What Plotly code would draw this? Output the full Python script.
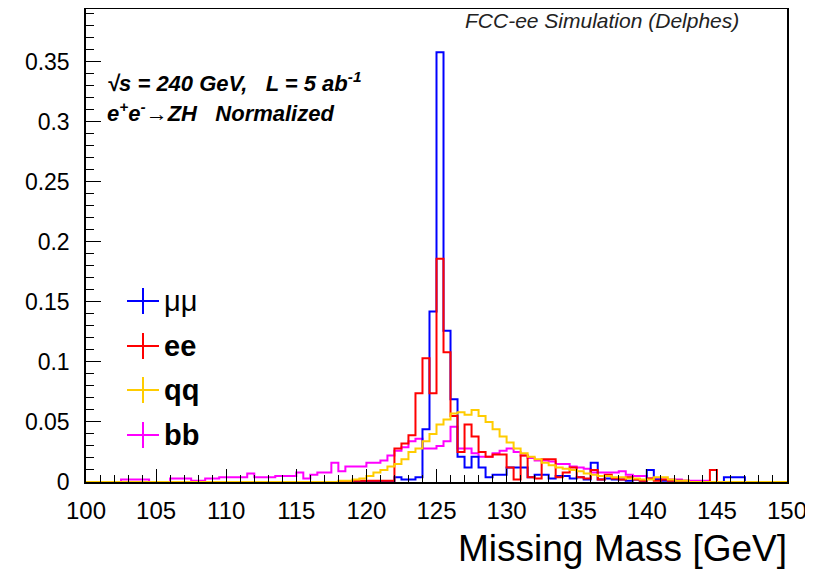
import plotly.graph_objects as go

# ---- data: normalized missing-mass histograms, 100 bins of 0.5 GeV from 100 to 150 ----
bin_low = 100.0
bin_width = 0.5
n_bins = 100

mumu = [0.0] * 44 + [
    0.004, 0.002, 0.002, 0.004,                    # 122.0 - 123.5
    0.044, 0.142, 0.358, 0.126, 0.069, 0.021,      # 124.0 - 126.5
    0.012, 0.021, 0.012, 0.004, 0.006, 0.006,      # 127.0 - 129.5
    0.012, 0.012, 0.012, 0.004, 0.006, 0.006,      # 130.0 - 132.5
    0.003, 0.005, 0.005, 0.003, 0.004, 0.002,      # 133.0 - 135.5
    0.016, 0.002, 0.003, 0.002, 0.002, 0.001,      # 136.0 - 138.5
    0.002, 0.001, 0.010, 0.002, 0.001, 0.001,      # 139.0 - 141.5
    0.001, 0.0, 0.0, 0.0, 0.0, 0.0, 0.0,           # 142.0 - 145.0
    0.004, 0.004, 0.004,                           # 145.5 - 146.5
    0.0, 0.0, 0.0, 0.0, 0.0, 0.0                   # 147.0 - 149.5
]

ee = [0.0] * 38 + [
    0.001, 0.001, 0.001, 0.001, 0.001, 0.001,      # 119.0 - 121.5
    0.028, 0.032, 0.039, 0.074, 0.103, 0.074,      # 122.0 - 124.5
    0.186, 0.108, 0.055, 0.025, 0.048, 0.038,      # 125.0 - 127.5
    0.025, 0.021, 0.023, 0.023, 0.012, 0.002,      # 128.0 - 130.5
    0.022, 0.004, 0.003, 0.019, 0.019, 0.004,      # 131.0 - 133.5
    0.008, 0.012, 0.004, 0.003, 0.010, 0.002,      # 134.0 - 136.5
    0.006, 0.003, 0.002, 0.004, 0.002, 0.001,      # 137.0 - 139.5
    0.003, 0.001, 0.002, 0.001, 0.001, 0.001,      # 140.0 - 142.5
    0.0, 0.0, 0.0, 0.010,                          # 143.0 - 144.5
    0.0, 0.0, 0.0, 0.0, 0.0, 0.0, 0.0, 0.0, 0.0, 0.0  # 145.0 - 149.5
]

qq = [0.0] * 36 + [
    0.001, 0.001, 0.002, 0.003, 0.005, 0.008,      # 118.0 - 120.5
    0.010, 0.013, 0.015, 0.019, 0.025, 0.028,      # 121.0 - 123.5
    0.034, 0.040, 0.048, 0.052, 0.057, 0.058,      # 124.0 - 126.5
    0.056, 0.060, 0.055, 0.050, 0.044, 0.038,      # 127.0 - 129.5
    0.033, 0.028, 0.024, 0.021, 0.019, 0.016,      # 130.0 - 132.5
    0.014, 0.012, 0.011, 0.010, 0.009, 0.007,      # 133.0 - 135.5
    0.006, 0.005, 0.005, 0.004, 0.004, 0.003,      # 136.0 - 138.5
    0.003, 0.002, 0.002, 0.004, 0.004, 0.002,      # 139.0 - 141.5
    0.001, 0.001,                                  # 142.0 - 142.5
] + [0.0] * 14

bb = [
    0.0, 0.0, 0.0, 0.0, 0.0, 0.002, 0.002, 0.002,  # 100.0 - 103.5
    0.002, 0.0, 0.0, 0.0, 0.003, 0.003, 0.003,     # 104.0 - 107.0
    0.001, 0.001, 0.003, 0.003, 0.004, 0.004,      # 107.5 - 110.0
    0.004, 0.004, 0.007, 0.004, 0.004, 0.004,      # 110.5 - 113.0
    0.005, 0.005, 0.005, 0.008, 0.003, 0.006,      # 113.5 - 116.0
    0.008, 0.008, 0.016, 0.009, 0.013, 0.013,      # 116.5 - 119.0
    0.013, 0.016, 0.016, 0.018, 0.022, 0.026,      # 119.5 - 122.0
    0.029, 0.034, 0.036, 0.028, 0.028, 0.030,      # 122.5 - 125.0
    0.034, 0.046, 0.028, 0.028, 0.024, 0.021,      # 125.5 - 128.0
    0.021, 0.024, 0.026, 0.028, 0.025, 0.022,      # 128.5 - 131.0
    0.020, 0.018, 0.018, 0.017, 0.015, 0.015,      # 131.5 - 134.0
    0.013, 0.012, 0.011, 0.008, 0.008, 0.008,      # 134.5 - 137.0
    0.008, 0.009, 0.006, 0.005, 0.005, 0.003,      # 137.5 - 140.0
    0.003, 0.002, 0.002, 0.002, 0.001, 0.001,      # 140.5 - 143.0
    0.001, 0.001,                                  # 143.5 - 144.0
] + [0.0] * 11

series_names = ["μμ", "ee", "qq", "bb"]
series_colors = ["#0000ff", "#ff0000", "#ffcc00", "#ff00ff"]
series_values = [mumu, ee, qq, bb]

x_ticks_major = 5
y_range = [0, 0.394]

# ---- figure ----
FONT = "Liberation Sans, Arial, Helvetica, sans-serif"
edges = [bin_low + bin_width * i for i in range(n_bins + 1)]

fig = go.Figure()
draw_order = [3, 0, 1, 2]  # bb, mumu, ee, qq (qq on top)
for k in draw_order:
    vals = series_values[k]
    fig.add_trace(go.Scatter(
        x=edges, y=list(vals) + [vals[-1]],
        mode="lines", line=dict(shape="hv", color=series_colors[k], width=2),
        name=series_names[k], showlegend=False, hoverinfo="skip"))

# page body has an 8px margin; plot frame should sit at x 86..787, y 9..482 in the window
OFF = 8
FRAME_L, FRAME_R, FRAME_T, FRAME_B = 86, 787, 9, 482
W, H = 813 - OFF, 573 - OFF
L, T = FRAME_L - OFF, FRAME_T - OFF
pw, ph = FRAME_R - FRAME_L, FRAME_B - FRAME_T
R = W - L - pw
B = H - T - ph

def px2x(px):
    return (px - FRAME_L) / pw

def py2y(py):
    return (FRAME_B - py) / ph

legend_rows_py = [301, 346, 390, 435]
cx, half_w, half_h = 143, 16, 13
shapes = []
annotations = []
for name, color, py in zip(series_names, series_colors, legend_rows_py):
    shapes.append(dict(type="line", xref="paper", yref="paper",
                       x0=px2x(cx - half_w), x1=px2x(cx + half_w), y0=py2y(py), y1=py2y(py),
                       line=dict(color=color, width=2)))
    shapes.append(dict(type="line", xref="paper", yref="paper",
                       x0=px2x(cx), x1=px2x(cx), y0=py2y(py - half_h), y1=py2y(py + half_h),
                       line=dict(color=color, width=2)))
    label = name if name == "μμ" else "<b>%s</b>" % name
    annotations.append(dict(xref="paper", yref="paper", x=px2x(162), y=py2y(py),
                            xanchor="left", yanchor="middle", showarrow=False,
                            text=label, font=dict(family=FONT, size=29, color="black")))

annotations += [
    dict(xref="paper", yref="paper", x=px2x(741), y=py2y(20), xanchor="right", yanchor="middle",
         showarrow=False, text="<i>FCC-ee Simulation (Delphes)</i>",
         font=dict(family=FONT, size=21, color="#222")),
    dict(xref="paper", yref="paper", x=px2x(105), y=py2y(82), xanchor="left", yanchor="middle",
         showarrow=False,
         text="<b><i>√s = 240 GeV,\u00a0\u00a0\u00a0L = 5 ab<sup>-1</sup></i></b>",
         font=dict(family=FONT, size=22, color="black")),
    dict(xref="paper", yref="paper", x=px2x(105), y=py2y(112), xanchor="left", yanchor="middle",
         showarrow=False,
         text="<b><i>e<sup>+</sup>e<sup>-</sup>→ZH\u00a0\u00a0\u00a0Normalized</i></b>",
         font=dict(family=FONT, size=22, color="black")),
    dict(xref="paper", yref="paper", x=px2x(789), y=py2y(548), xanchor="right", yanchor="middle",
         showarrow=False, text="Missing Mass [GeV]",
         font=dict(family=FONT, size=37, color="black")),
]

fig.update_layout(
    width=W, height=H,
    margin=dict(l=L, r=R, t=T, b=B, pad=0, autoexpand=False),
    paper_bgcolor="white", plot_bgcolor="white",
    font=dict(family=FONT, color="black"),
    shapes=shapes, annotations=annotations,
    showlegend=False,
)
fig.update_xaxes(
    range=[edges[0], edges[-1]], tick0=100, dtick=x_ticks_major,
    ticks="inside", ticklen=13, tickwidth=1, tickcolor="black",
    minor=dict(dtick=1, ticks="inside", ticklen=7, tickcolor="black", showgrid=False),
    showgrid=False, zeroline=False, showline=True, linecolor="black", linewidth=1.5, mirror=True,
    tickfont=dict(family=FONT, size=24), ticklabelstandoff=6,
)
fig.update_yaxes(
    range=y_range, tick0=0, dtick=0.05,
    ticks="inside", ticklen=15, tickwidth=1, tickcolor="black",
    minor=dict(dtick=0.01, ticks="inside", ticklen=8, tickcolor="black", showgrid=False),
    showgrid=False, zeroline=False, showline=True, linecolor="black", linewidth=1.5, mirror=True,
    tickfont=dict(family=FONT, size=23), ticklabelstandoff=10,
)

fig.write_html("out.html")
